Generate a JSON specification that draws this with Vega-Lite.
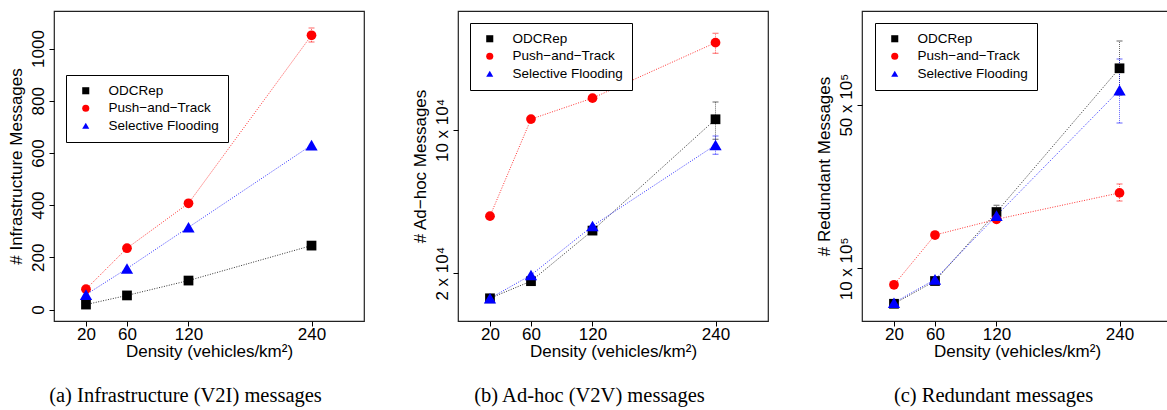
{
  "$schema": "https://vega.github.io/schema/vega-lite/v6.json",
  "background": "white",
  "padding": {"left": 6, "top": 10, "right": 0, "bottom": 0},
  "bounds": "flush",
  "spacing": 94,
  "config": {
    "view": {"stroke": "#222", "strokeWidth": 1.2},
    "axis": {"grid": false, "domain": false, "tickColor": "black", "tickSize": 5, "labelFont": "Liberation Sans", "labelFontSize": 17, "labelColor": "black", "titleFont": "Liberation Sans", "titleFontSize": 17, "titleFontWeight": "normal", "titleColor": "black", "labelFlush": false, "labelOverlap": false},
    "axisY": {"labelAngle": -90, "labelAlign": "center", "labelBaseline": "bottom", "labelPadding": 2, "titlePadding": 4},
    "axisX": {"labelPadding": 0, "titlePadding": 1},
    "legend": {"orient": "none", "strokeColor": "black", "fillColor": "white", "padding": 9, "labelFont": "Liberation Sans", "labelFontSize": 13.5, "labelColor": "black", "symbolSize": 50, "symbolStrokeWidth": 0, "symbolOpacity": 1, "rowPadding": 2.5, "labelOffset": 16, "symbolOffset": 4, "cornerRadius": 0},
    "title": {"orient": "bottom", "font": "Liberation Serif", "fontSize": 20.5, "fontWeight": "normal", "color": "black", "anchor": "middle", "frame": "bounds", "offset": 27}
  },
  "datasets": {
    "a": [
      {"density": 20, "series": "ODCRep", "value": 19, "lo": null, "hi": null},
      {"density": 60, "series": "ODCRep", "value": 54, "lo": null, "hi": null},
      {"density": 120, "series": "ODCRep", "value": 111, "lo": null, "hi": null},
      {"density": 240, "series": "ODCRep", "value": 245, "lo": null, "hi": null},
      {"density": 20, "series": "Push−and−Track", "value": 78, "lo": null, "hi": null},
      {"density": 60, "series": "Push−and−Track", "value": 235, "lo": null, "hi": null},
      {"density": 120, "series": "Push−and−Track", "value": 407, "lo": null, "hi": null},
      {"density": 240, "series": "Push−and−Track", "value": 1051, "lo": 1025, "hi": 1079},
      {"density": 20, "series": "Selective Flooding", "value": 57, "lo": null, "hi": null},
      {"density": 60, "series": "Selective Flooding", "value": 157, "lo": null, "hi": null},
      {"density": 120, "series": "Selective Flooding", "value": 315, "lo": null, "hi": null},
      {"density": 240, "series": "Selective Flooding", "value": 630, "lo": null, "hi": null}
    ],
    "b": [
      {"density": 20, "series": "ODCRep", "value": 15100, "lo": null, "hi": null},
      {"density": 60, "series": "ODCRep", "value": 18300, "lo": null, "hi": null},
      {"density": 120, "series": "ODCRep", "value": 32300, "lo": null, "hi": null},
      {"density": 240, "series": "ODCRep", "value": 112800, "lo": 90000, "hi": 137000},
      {"density": 20, "series": "Push−and−Track", "value": 38000, "lo": null, "hi": null},
      {"density": 60, "series": "Push−and−Track", "value": 113000, "lo": null, "hi": null},
      {"density": 120, "series": "Push−and−Track", "value": 143000, "lo": null, "hi": null},
      {"density": 240, "series": "Push−and−Track", "value": 266700, "lo": 236600, "hi": 296300},
      {"density": 20, "series": "Selective Flooding", "value": 15100, "lo": null, "hi": null},
      {"density": 60, "series": "Selective Flooding", "value": 19600, "lo": null, "hi": null},
      {"density": 120, "series": "Selective Flooding", "value": 34000, "lo": null, "hi": null},
      {"density": 240, "series": "Selective Flooding", "value": 84500, "lo": 76100, "hi": 93500}
    ],
    "c": [
      {"density": 20, "series": "ODCRep", "value": 706000, "lo": null, "hi": null},
      {"density": 60, "series": "ODCRep", "value": 883000, "lo": null, "hi": null},
      {"density": 120, "series": "ODCRep", "value": 1740000, "lo": 1620000, "hi": 1860000},
      {"density": 240, "series": "ODCRep", "value": 7150000, "lo": 5500000, "hi": 9350000},
      {"density": 20, "series": "Push−and−Track", "value": 851000, "lo": null, "hi": null},
      {"density": 60, "series": "Push−and−Track", "value": 1388000, "lo": null, "hi": null},
      {"density": 120, "series": "Push−and−Track", "value": 1620000, "lo": null, "hi": null},
      {"density": 240, "series": "Push−and−Track", "value": 2100000, "lo": 1940000, "hi": 2290000},
      {"density": 20, "series": "Selective Flooding", "value": 713000, "lo": null, "hi": null},
      {"density": 60, "series": "Selective Flooding", "value": 897000, "lo": null, "hi": null},
      {"density": 120, "series": "Selective Flooding", "value": 1680000, "lo": null, "hi": null},
      {"density": 240, "series": "Selective Flooding", "value": 5770000, "lo": 4180000, "hi": 7830000}
    ]
  },
  "resolve": {"scale": {"y": "independent"}, "legend": {"color": "independent", "shape": "independent"}},
  "hconcat": [
    {
      "width": 310, "height": 310,
      "title": {"text": "(a) Infrastructure (V2I) messages"},
      "data": {"name": "a"},
      "encoding": {
        "x": {"field": "density", "type": "quantitative", "title": "Density (vehicles/km²)", "scale": {"domain": [-11.2, 291.2], "nice": false, "zero": false}, "axis": {"values": [20, 60, 120, 240]}},
        "color": {"field": "series", "type": "nominal", "scale": {"domain": ["ODCRep", "Push−and−Track", "Selective Flooding"], "range": ["black", "#FF0000", "#0000FF"]}, "legend": {"title": null, "legendX": 12, "legendY": 64}}
      },
      "layer": [
        {
          "transform": [{"filter": "datum.hi != null"}],
          "mark": {"type": "errorbar", "ticks": {"size": 6, "strokeDash": [1, 1]}, "rule": {"strokeDash": [1, 1]}, "opacity": 0.6},
          "encoding": {
            "y": {"field": "lo", "type": "quantitative", "title": "# Infrastructure Messages", "scale": {"domain": [-44, 1144], "nice": false, "zero": false}, "axis": {"values": [0, 200, 400, 600, 800, 1000], "format": "d"}},
            "y2": {"field": "hi"}
          }
        },
        {
          "mark": {"type": "line", "strokeDash": [1, 1.5], "strokeWidth": 1, "opacity": 0.8},
          "encoding": {"y": {"field": "value", "type": "quantitative", "title": "# Infrastructure Messages"}}
        },
        {
          "transform": [{"filter": "datum.series != 'Selective Flooding'"}],
          "mark": {"type": "point", "filled": true, "opacity": 1, "size": 95},
          "encoding": {
            "y": {"field": "value", "type": "quantitative", "title": "# Infrastructure Messages"},
            "shape": {"field": "series", "type": "nominal", "scale": {"domain": ["ODCRep", "Push−and−Track", "Selective Flooding"], "range": ["square", "circle", "triangle-up"]}, "legend": {"title": null, "legendX": 12, "legendY": 64}}
          }
        },
        {
          "transform": [{"filter": "datum.series == 'Selective Flooding'"}],
          "mark": {"type": "point", "filled": true, "opacity": 1, "size": 150},
          "encoding": {
            "y": {"field": "value", "type": "quantitative", "title": "# Infrastructure Messages"},
            "shape": {"field": "series", "type": "nominal"}
          }
        }
      ]
    },
    {
      "width": 310, "height": 310,
      "title": {"text": "(b) Ad-hoc (V2V) messages"},
      "data": {"name": "b"},
      "encoding": {
        "x": {"field": "density", "type": "quantitative", "title": "Density (vehicles/km²)", "scale": {"domain": [-11.2, 291.2], "nice": false, "zero": false}, "axis": {"values": [20, 60, 120, 240]}},
        "color": {"field": "series", "type": "nominal", "scale": {"domain": ["ODCRep", "Push−and−Track", "Selective Flooding"], "range": ["black", "#FF0000", "#0000FF"]}, "legend": {"title": null, "legendX": 12, "legendY": 12}}
      },
      "layer": [
        {
          "transform": [{"filter": "datum.hi != null"}],
          "mark": {"type": "errorbar", "ticks": {"size": 6, "strokeDash": [1, 1]}, "rule": {"strokeDash": [1, 1]}, "opacity": 0.6},
          "encoding": {
            "y": {"field": "lo", "type": "quantitative", "title": "# Ad−hoc Messages", "scale": {"type": "log", "domain": [11700, 380600], "nice": false}, "axis": {"values": [20000, 100000], "labelExpr": "datum.value < 50000 ? '2 x 10⁴' : '10 x 10⁴'"}},
            "y2": {"field": "hi"}
          }
        },
        {
          "mark": {"type": "line", "strokeDash": [1, 1.5], "strokeWidth": 1, "opacity": 0.8},
          "encoding": {"y": {"field": "value", "type": "quantitative", "title": "# Ad−hoc Messages"}}
        },
        {
          "transform": [{"filter": "datum.series != 'Selective Flooding'"}],
          "mark": {"type": "point", "filled": true, "opacity": 1, "size": 95},
          "encoding": {
            "y": {"field": "value", "type": "quantitative", "title": "# Ad−hoc Messages"},
            "shape": {"field": "series", "type": "nominal", "scale": {"domain": ["ODCRep", "Push−and−Track", "Selective Flooding"], "range": ["square", "circle", "triangle-up"]}, "legend": {"title": null, "legendX": 12, "legendY": 12}}
          }
        },
        {
          "transform": [{"filter": "datum.series == 'Selective Flooding'"}],
          "mark": {"type": "point", "filled": true, "opacity": 1, "size": 150},
          "encoding": {
            "y": {"field": "value", "type": "quantitative", "title": "# Ad−hoc Messages"},
            "shape": {"field": "series", "type": "nominal"}
          }
        }
      ]
    },
    {
      "width": 310, "height": 310,
      "title": {"text": "(c) Redundant messages"},
      "data": {"name": "c"},
      "encoding": {
        "x": {"field": "density", "type": "quantitative", "title": "Density (vehicles/km²)", "scale": {"domain": [-11.2, 291.2], "nice": false, "zero": false}, "axis": {"values": [20, 60, 120, 240]}},
        "color": {"field": "series", "type": "nominal", "scale": {"domain": ["ODCRep", "Push−and−Track", "Selective Flooding"], "range": ["black", "#FF0000", "#0000FF"]}, "legend": {"title": null, "legendX": 13, "legendY": 12}}
      },
      "layer": [
        {
          "transform": [{"filter": "datum.hi != null"}],
          "mark": {"type": "errorbar", "ticks": {"size": 6, "strokeDash": [1, 1]}, "rule": {"strokeDash": [1, 1]}, "opacity": 0.6},
          "encoding": {
            "y": {"field": "lo", "type": "quantitative", "title": "# Redundant Messages", "scale": {"type": "log", "domain": [596000, 12560000], "nice": false}, "axis": {"values": [1000000, 5000000], "labelExpr": "datum.value < 2000000 ? '10 x 10⁵' : '50 x 10⁵'"}},
            "y2": {"field": "hi"}
          }
        },
        {
          "mark": {"type": "line", "strokeDash": [1, 1.5], "strokeWidth": 1, "opacity": 0.8},
          "encoding": {"y": {"field": "value", "type": "quantitative", "title": "# Redundant Messages"}}
        },
        {
          "transform": [{"filter": "datum.series != 'Selective Flooding'"}],
          "mark": {"type": "point", "filled": true, "opacity": 1, "size": 95},
          "encoding": {
            "y": {"field": "value", "type": "quantitative", "title": "# Redundant Messages"},
            "shape": {"field": "series", "type": "nominal", "scale": {"domain": ["ODCRep", "Push−and−Track", "Selective Flooding"], "range": ["square", "circle", "triangle-up"]}, "legend": {"title": null, "legendX": 13, "legendY": 12}}
          }
        },
        {
          "transform": [{"filter": "datum.series == 'Selective Flooding'"}],
          "mark": {"type": "point", "filled": true, "opacity": 1, "size": 150},
          "encoding": {
            "y": {"field": "value", "type": "quantitative", "title": "# Redundant Messages"},
            "shape": {"field": "series", "type": "nominal"}
          }
        }
      ]
    }
  ]
}
